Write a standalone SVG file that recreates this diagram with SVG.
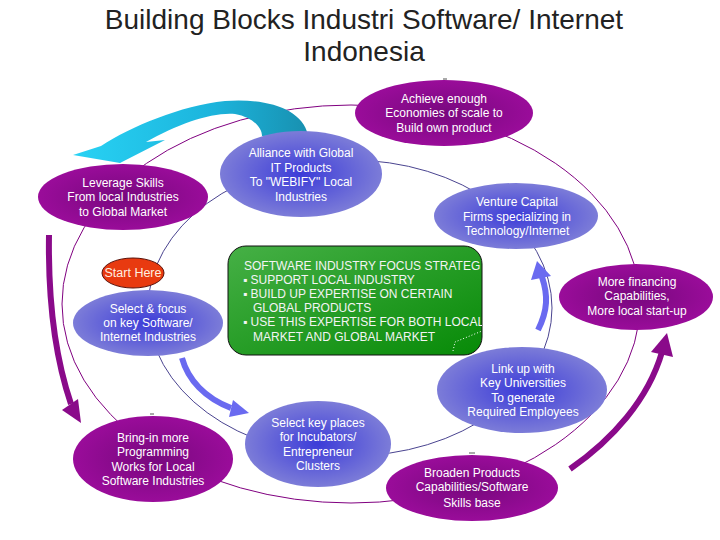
<svg xmlns="http://www.w3.org/2000/svg" width="720" height="540" viewBox="0 0 720 540">
<defs>
<radialGradient id="gp" cx="50%" cy="50%" r="50%">
<stop offset="0" stop-color="#78087e"/>
<stop offset="1" stop-color="#9a0c9a"/>
</radialGradient>
<radialGradient id="gb" cx="50%" cy="50%" r="50%">
<stop offset="0" stop-color="#3c3cd8"/>
<stop offset="1" stop-color="#7c7cd8"/>
</radialGradient>
<linearGradient id="gg" x1="0" y1="0" x2="1" y2="1">
<stop offset="0" stop-color="#46b046"/>
<stop offset="1" stop-color="#078a07"/>
</linearGradient>
<linearGradient id="gc" x1="0" y1="0" x2="1" y2="0">
<stop offset="0" stop-color="#28d2f4"/>
<stop offset="0.6" stop-color="#1cb4dc"/>
<stop offset="1" stop-color="#1890b0"/>
</linearGradient>
<clipPath id="boxclip"><rect x="228" y="246" width="254" height="109" rx="18"/></clipPath>
<style>
.t{font-family:"Liberation Sans",Arial,sans-serif;font-size:12px;fill:#ffffff;text-anchor:middle}
.g{font-family:"Liberation Sans",Arial,sans-serif;font-size:12px;fill:#f4f4f4}
.ttl{font-family:"Liberation Sans",Arial,sans-serif;font-size:28px;fill:#222222;text-anchor:middle}
.p{fill:url(#gp)}
.b{fill:url(#gb)}
.loop{fill:none;stroke-width:1}
.tp{fill:none;stroke:#8a0a8a;stroke-width:6}
.tb{fill:none;stroke:#6a6af0;stroke-width:6}
.tick{stroke:#555555;stroke-width:1}
</style>
</defs>
<rect width="720" height="540" fill="#ffffff"/>
<g id="title">
<text class="ttl" x="364" y="29">Building Blocks Industri Software/ Internet</text>
<text class="ttl" x="364" y="61">Indonesia</text>
</g>
<g id="connectors">
<ellipse class="loop" cx="351" cy="304" rx="289" ry="199" stroke="#800080"/>
<ellipse class="loop" cx="350" cy="308" rx="202" ry="148" stroke="#4a4490"/>
<path d="M308,135 C302,108 265,98 225,101 C180,106 132,126 101,146 L73,155 L120,163 L165,140 L146,142 C178,124 212,112 235,114 C252,117 262,127 262,136 Z" fill="url(#gc)"/>
<path class="tp" d="M49,235 C48,300 56,360 71,404"/>
<polygon points="62,410 81,423 78,399" fill="#8a0a8a"/>
<path class="tp" d="M570,469 C612,440 648,400 662,352"/>
<polygon points="651,352 667,333 673,357" fill="#8a0a8a"/>
<path class="tb" d="M182,358 C188,380 205,398 231,408"/>
<polygon points="233,400 249,413 229,417" fill="#6a6af0"/>
<path class="tb" d="M538,330 C548,310 548,295 542,277"/>
<polygon points="537,261 531,280 551,276" fill="#6a6af0"/>
<line class="tick" x1="443" y1="79" x2="447" y2="79"/>
<line class="tick" x1="150" y1="414" x2="154" y2="414"/>
<line class="tick" x1="469" y1="453" x2="475" y2="453"/>
</g>
<g id="achieve">
<ellipse class="p" cx="444" cy="113" rx="89" ry="33"/>
<text class="t" x="444" y="103">Achieve enough</text>
<text class="t" x="444" y="117">Economies of scale to</text>
<text class="t" x="444" y="132">Build own product</text>
</g>
<g id="leverage">
<ellipse class="p" cx="123" cy="197" rx="85" ry="33"/>
<text class="t" x="123" y="187">Leverage Skills</text>
<text class="t" x="123" y="201">From local Industries</text>
<text class="t" x="123" y="216">to Global Market</text>
</g>
<g id="alliance">
<ellipse class="b" cx="301" cy="174" rx="81" ry="43"/>
<text class="t" x="301" y="157">Alliance with Global</text>
<text class="t" x="301" y="172">IT Products</text>
<text class="t" x="301" y="186">To "WEBIFY" Local</text>
<text class="t" x="301" y="201">Industries</text>
</g>
<g id="venture">
<ellipse class="b" cx="516" cy="216" rx="82" ry="33"/>
<text class="t" x="517" y="206">Venture Capital</text>
<text class="t" x="517" y="221">Firms specializing in</text>
<text class="t" x="517" y="235">Technology/Internet</text>
</g>
<g id="financing">
<ellipse class="p" cx="636" cy="297" rx="77" ry="33"/>
<text class="t" x="637" y="286">More financing</text>
<text class="t" x="637" y="300">Capabilities,</text>
<text class="t" x="637" y="315">More local start-up</text>
</g>
<g id="start">
<ellipse cx="133" cy="273" rx="31" ry="15" fill="#e83a10" stroke="#5a1008" stroke-width="1"/>
<text class="t" x="133" y="277" style="font-size:12.5px;fill:#fff0e0">Start Here</text>
</g>
<g id="selectfocus">
<ellipse class="b" cx="148" cy="323" rx="75" ry="33"/>
<text class="t" x="148" y="313">Select &amp; focus</text>
<text class="t" x="148" y="327">on key Software/</text>
<text class="t" x="148" y="341">Internet Industries</text>
</g>
<g id="strategy">
<rect x="228" y="246" width="254" height="109" rx="18" fill="url(#gg)" stroke="#111111" stroke-width="1"/>
<g clip-path="url(#boxclip)">
<text class="g" x="244" y="270">SOFTWARE INDUSTRY FOCUS STRATEG</text>
<text class="g" x="243" y="284">▪ SUPPORT LOCAL INDUSTRY</text>
<text class="g" x="243" y="298">▪ BUILD UP EXPERTISE ON CERTAIN</text>
<text class="g" x="253" y="312">GLOBAL PRODUCTS</text>
<text class="g" x="243" y="326">▪ USE THIS EXPERTISE FOR BOTH LOCAL</text>
<text class="g" x="253" y="341">MARKET AND GLOBAL MARKET</text>
<polyline points="453,351 455,342 482,331" fill="none" stroke="#ffffff" stroke-width="1" stroke-dasharray="1,2"/>
</g>
</g>
<g id="linkup">
<ellipse class="b" cx="522" cy="390" rx="85" ry="43"/>
<text class="t" x="523" y="373">Link up with</text>
<text class="t" x="523" y="387">Key Universities</text>
<text class="t" x="523" y="402">To generate</text>
<text class="t" x="523" y="416">Required Employees</text>
</g>
<g id="bringin">
<ellipse class="p" cx="153" cy="459" rx="80" ry="43"/>
<text class="t" x="153" y="442">Bring-in more</text>
<text class="t" x="153" y="456">Programming</text>
<text class="t" x="153" y="471">Works for Local</text>
<text class="t" x="153" y="485">Software Industries</text>
</g>
<g id="incubators">
<ellipse class="b" cx="318" cy="444" rx="73" ry="43"/>
<text class="t" x="318" y="427">Select key places</text>
<text class="t" x="318" y="441">for Incubators/</text>
<text class="t" x="318" y="456">Entrepreneur</text>
<text class="t" x="318" y="470">Clusters</text>
</g>
<g id="broaden">
<ellipse class="p" cx="472" cy="488" rx="86" ry="33"/>
<text class="t" x="472" y="477">Broaden Products</text>
<text class="t" x="472" y="491">Capabilities/Software</text>
<text class="t" x="472" y="507">Skills base</text>
</g>
</svg>
